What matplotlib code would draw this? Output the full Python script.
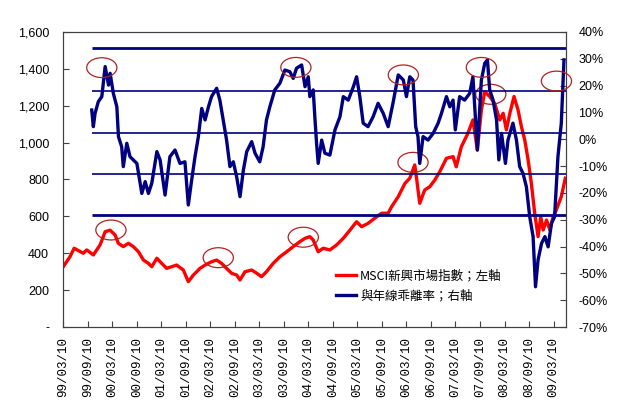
import matplotlib
matplotlib.use("Agg")
import matplotlib.pyplot as plt
import matplotlib.dates as mdates
from matplotlib.patches import Ellipse
from matplotlib.ticker import FuncFormatter
import pandas as pd

plt.rcParams["font.family"] = ["Liberation Sans", "Noto Sans CJK TC", "DejaVu Sans"]

# ── Данни (отчетени от графиката) ─────────────────────────────

# MSCI 新興市場指數 (лява ос)
msci_dates = [
    "1999-03-10", "1999-05-01", "1999-06-01", "1999-08-08", "1999-09-03", "1999-10-22",
    "1999-12-11", "2000-01-18", "2000-02-24", "2000-04-01", "2000-04-25", "2000-06-01",
    "2000-07-09", "2000-08-15", "2000-09-22", "2000-10-29", "2000-12-05", "2000-12-30",
    "2001-02-06", "2001-03-14", "2001-04-20", "2001-05-27", "2001-07-03", "2001-08-22",
    "2001-09-28", "2001-11-05", "2001-12-24", "2002-01-31", "2002-03-20", "2002-04-27",
    "2002-06-03", "2002-07-10", "2002-08-17", "2002-09-23", "2002-10-18", "2002-11-24",
    "2003-01-13", "2003-02-20", "2003-03-27", "2003-05-03", "2003-06-22", "2003-08-11",
    "2003-09-30", "2003-11-18", "2004-01-07", "2004-02-14", "2004-03-21", "2004-04-15",
    "2004-05-22", "2004-06-28", "2004-08-17", "2004-10-06", "2004-11-25", "2005-01-14",
    "2005-03-04", "2005-04-10", "2005-05-28", "2005-07-17", "2005-09-06", "2005-10-25",
    "2005-11-20", "2006-01-08", "2006-02-27", "2006-04-04", "2006-05-11", "2006-05-23",
    "2006-06-17", "2006-07-24", "2006-08-31", "2006-10-07", "2006-11-13", "2007-01-02",
    "2007-02-20", "2007-03-16", "2007-04-23", "2007-06-11", "2007-07-18", "2007-08-20",
    "2007-09-19", "2007-10-14", "2007-11-20", "2007-12-27", "2008-02-03", "2008-02-28",
    "2008-03-23", "2008-04-18", "2008-05-19", "2008-06-18", "2008-07-13", "2008-08-07",
    "2008-09-01", "2008-09-25", "2008-10-20", "2008-11-14", "2008-12-04", "2008-12-22",
    "2009-01-16", "2009-02-10", "2009-03-06", "2009-03-30", "2009-05-06", "2009-06-05",
]
msci_vals = [
    325, 381, 427, 400, 418, 391,
    445, 517, 525, 499, 454, 436,
    454, 436, 408, 363, 345, 327,
    373, 345, 318, 327, 336, 309,
    246, 282, 318, 336, 354, 363,
    345, 318, 291, 282, 255, 300,
    309, 291, 273, 300, 345, 381,
    408, 436, 463, 481, 490, 472,
    408, 427, 418, 445, 481, 526,
    571, 544, 562, 590, 617, 617,
    653, 707, 779, 807, 879, 815,
    671, 743, 761, 797, 842, 915,
    924, 869, 978, 1051, 1123, 960,
    1177, 1276, 1250, 1213, 1123, 1159,
    1069, 1159, 1250, 1177, 1087, 1014,
    906, 779, 617, 490, 598, 526,
    580, 526, 598, 635, 707, 807,
]

# 與年線乖離率 (дясна ос, %)
dev_dates = [
    "1999-10-10", "1999-10-22", "1999-11-04", "1999-11-28", "1999-12-24", "2000-01-18",
    "2000-02-12", "2000-02-24", "2000-03-19", "2000-04-14", "2000-04-26", "2000-05-20",
    "2000-06-01", "2000-06-27", "2000-07-21", "2000-08-15", "2000-09-10", "2000-10-05",
    "2000-10-17", "2000-11-11", "2000-12-05", "2000-12-30", "2001-02-06", "2001-03-02",
    "2001-04-08", "2001-05-14", "2001-06-21", "2001-07-28", "2001-09-03", "2001-09-28",
    "2001-10-23", "2001-11-17", "2001-12-12", "2002-01-06", "2002-01-31", "2002-02-25",
    "2002-03-20", "2002-04-27", "2002-05-21", "2002-06-15", "2002-07-10", "2002-08-04",
    "2002-08-29", "2002-09-23", "2002-10-18", "2002-11-12", "2002-12-07", "2003-01-13",
    "2003-02-07", "2003-03-14", "2003-04-08", "2003-05-03", "2003-05-28", "2003-07-04",
    "2003-08-11", "2003-09-17", "2003-10-24", "2003-11-18", "2003-12-13", "2004-01-20",
    "2004-02-14", "2004-03-09", "2004-03-21", "2004-04-15", "2004-04-27", "2004-05-10",
    "2004-05-22", "2004-06-17", "2004-07-11", "2004-08-17", "2004-09-24", "2004-10-31",
    "2004-11-25", "2005-01-01", "2005-02-08", "2005-03-04", "2005-03-28", "2005-04-22",
    "2005-05-28", "2005-07-05", "2005-08-11", "2005-09-18", "2005-10-25", "2005-12-02",
    "2006-01-08", "2006-02-15", "2006-03-10", "2006-04-04", "2006-04-28", "2006-05-18",
    "2006-06-04", "2006-06-17", "2006-07-12", "2006-08-18", "2006-09-25", "2006-11-01",
    "2006-11-26", "2007-01-02", "2007-01-27", "2007-02-20", "2007-03-09", "2007-04-10",
    "2007-05-17", "2007-06-24", "2007-07-18", "2007-08-20", "2007-09-19", "2007-10-14",
    "2007-11-03", "2007-11-20", "2007-12-15", "2008-01-10", "2008-01-27", "2008-02-16",
    "2008-03-16", "2008-04-04", "2008-05-11", "2008-06-06", "2008-06-30", "2008-07-25",
    "2008-08-19", "2008-09-13", "2008-10-08", "2008-10-26", "2008-11-14", "2008-12-10",
    "2009-01-04", "2009-01-28", "2009-02-22", "2009-03-17", "2009-04-11", "2009-05-06",
    "2009-05-26",
]
dev_vals = [
    10.9, 4.7, 9.7, 14.0, 15.9, 27.1,
    20.2, 24.6, 17.1, 12.1, 1.0, -2.8,
    -10.2, -1.5, -6.5, -7.7, -9.0, -16.4,
    -20.2, -15.8, -20.2, -16.4, -4.6, -7.7,
    -20.8, -6.5, -4.0, -9.0, -8.4, -24.5,
    -15.2, -6.5, 1.0, 11.5, 7.2, 12.1,
    15.9, 19.0, 14.6, 7.2, -0.3, -10.2,
    -8.4, -14.0, -21.4, -11.5, -4.6, -0.9,
    -5.2, -8.4, -2.8, 7.2, 12.1, 18.4,
    20.9, 25.8, 25.2, 22.7, 26.5, 27.7,
    19.6, 23.3, 15.9, 18.4, 8.4, -1.5,
    -9.0, -0.3, -5.2, -5.9, 3.5, 8.4,
    15.9, 14.6, 19.6, 23.3, 15.9, 6.0,
    4.7, 8.4, 13.4, 9.7, 4.7, 14.0,
    24.0, 22.1, 15.9, 23.3, 22.1, 4.7,
    1.0, -9.0, 1.0, -0.3, 2.2, 6.0,
    9.7, 15.9, 12.1, 14.6, 3.5, 15.9,
    14.6, 17.1, 23.3, -4.0, 22.1, 28.3,
    29.6, 18.4, 14.6, 7.2, -7.7, 2.2,
    -9.0, -0.3, 6.0, -0.3, -10.2, -12.7,
    -17.7, -28.9, -36.3, -55.0, -45.0, -38.8,
    -36.3, -40.1, -31.3, -28.9, -6.5, 6.0,
    29.6,
]

# Хоризонтални нива на乖離率 (%)
band_levels = [34.0, 18.1, 2.3, -13.0, -28.4]
band_widths = [2.0, 1.2, 1.2, 1.2, 2.0]

# Кръгове около върховете: (дата, стойност, ос)
circles = [
    ("1999-12-24", 26.7, "right"),
    ("2000-03-01", 526, "left"),
    ("2002-05-09", 376, "left"),
    ("2003-12-08", 26.8, "right"),
    ("2004-02-01", 487, "left"),
    ("2006-02-15", 24.0, "right"),
    ("2006-04-28", 893, "left"),
    ("2007-09-19", 26.8, "right"),
    ("2007-11-28", 1262, "left"),
    ("2009-03-31", 21.7, "right"),
]

x_labels = [
    "99/03/10", "99/09/10", "00/03/10", "00/09/10", "01/03/10", "01/09/10",
    "02/03/10", "02/09/10", "03/03/10", "03/09/10", "04/03/10", "04/09/10",
    "05/03/10", "05/09/10", "06/03/10", "06/09/10", "07/03/10", "07/09/10",
    "08/03/10", "08/09/10", "09/03/10",
]

msci_label = "MSCI新興市場指數；左軸"
dev_label = "與年線乖離率；右軸"

# ── Графика ─────────────────────────────────────────────────

fig = plt.figure(figsize=(6.23, 4.08), dpi=100)
ax1 = fig.add_axes([0.1011, 0.1985, 0.8074, 0.7231])
ax2 = ax1.twinx()

m_dates = pd.to_datetime(msci_dates)
d_dates = pd.to_datetime(dev_dates)
x_ticks = pd.to_datetime(x_labels, format="%y/%m/%d")
x_end = pd.Timestamp("2009-06-10")

line1, = ax1.plot(m_dates, msci_vals, color="#FF0000", lw=2.4, label=msci_label)

for lvl, lw in zip(band_levels, band_widths):
    ax2.hlines(lvl, d_dates[0], x_end, color="#000080", lw=lw)
line2, = ax2.plot(d_dates, dev_vals, color="#000080", lw=2.4, label=dev_label)

# Кръгове
for d, v, side in circles:
    ax = ax1 if side == "left" else ax2
    h = 108 if side == "left" else 7.4
    ax.add_patch(Ellipse((mdates.date2num(pd.Timestamp(d)), v), width=225, height=h,
                         fill=False, edgecolor="#B22222", lw=0.9, clip_on=False, zorder=5))

# Оси
ax1.set_xlim(x_ticks[0], x_end)
ax1.set_ylim(0, 1600)
ax2.set_ylim(-70, 40)
ax1.set_yticks(range(0, 1601, 200))
ax2.set_yticks(range(-70, 41, 10))
ax1.yaxis.set_major_formatter(FuncFormatter(lambda v, p: "-" if v == 0 else f"{v:,.0f}"))
ax2.yaxis.set_major_formatter(FuncFormatter(lambda v, p: f"{v:.0f}%"))

ax1.set_xticks(x_ticks)
ax1.set_xticklabels(x_labels, rotation=90, family="Liberation Mono", fontsize=9)

ax1.tick_params(axis="x", direction="in", length=4, pad=7, color="#404040")
ax1.tick_params(axis="y", direction="in", length=4, pad=10, labelsize=9, color="#404040")
ax2.tick_params(axis="y", direction="in", length=4, pad=9, labelsize=9, color="#404040")

for ax in (ax1, ax2):
    for sp in ax.spines.values():
        sp.set_color("#404040")
        sp.set_linewidth(0.8)

fig.legend(handles=[line1, line2], loc="upper left", bbox_to_anchor=(0.54, 0.34),
           frameon=False, prop={"family": ["Noto Sans CJK TC"], "size": 9},
           handlelength=1.6, handletextpad=0.3, labelspacing=0.6,
           borderaxespad=0, borderpad=0)

fig.savefig("out.png", dpi=100)
